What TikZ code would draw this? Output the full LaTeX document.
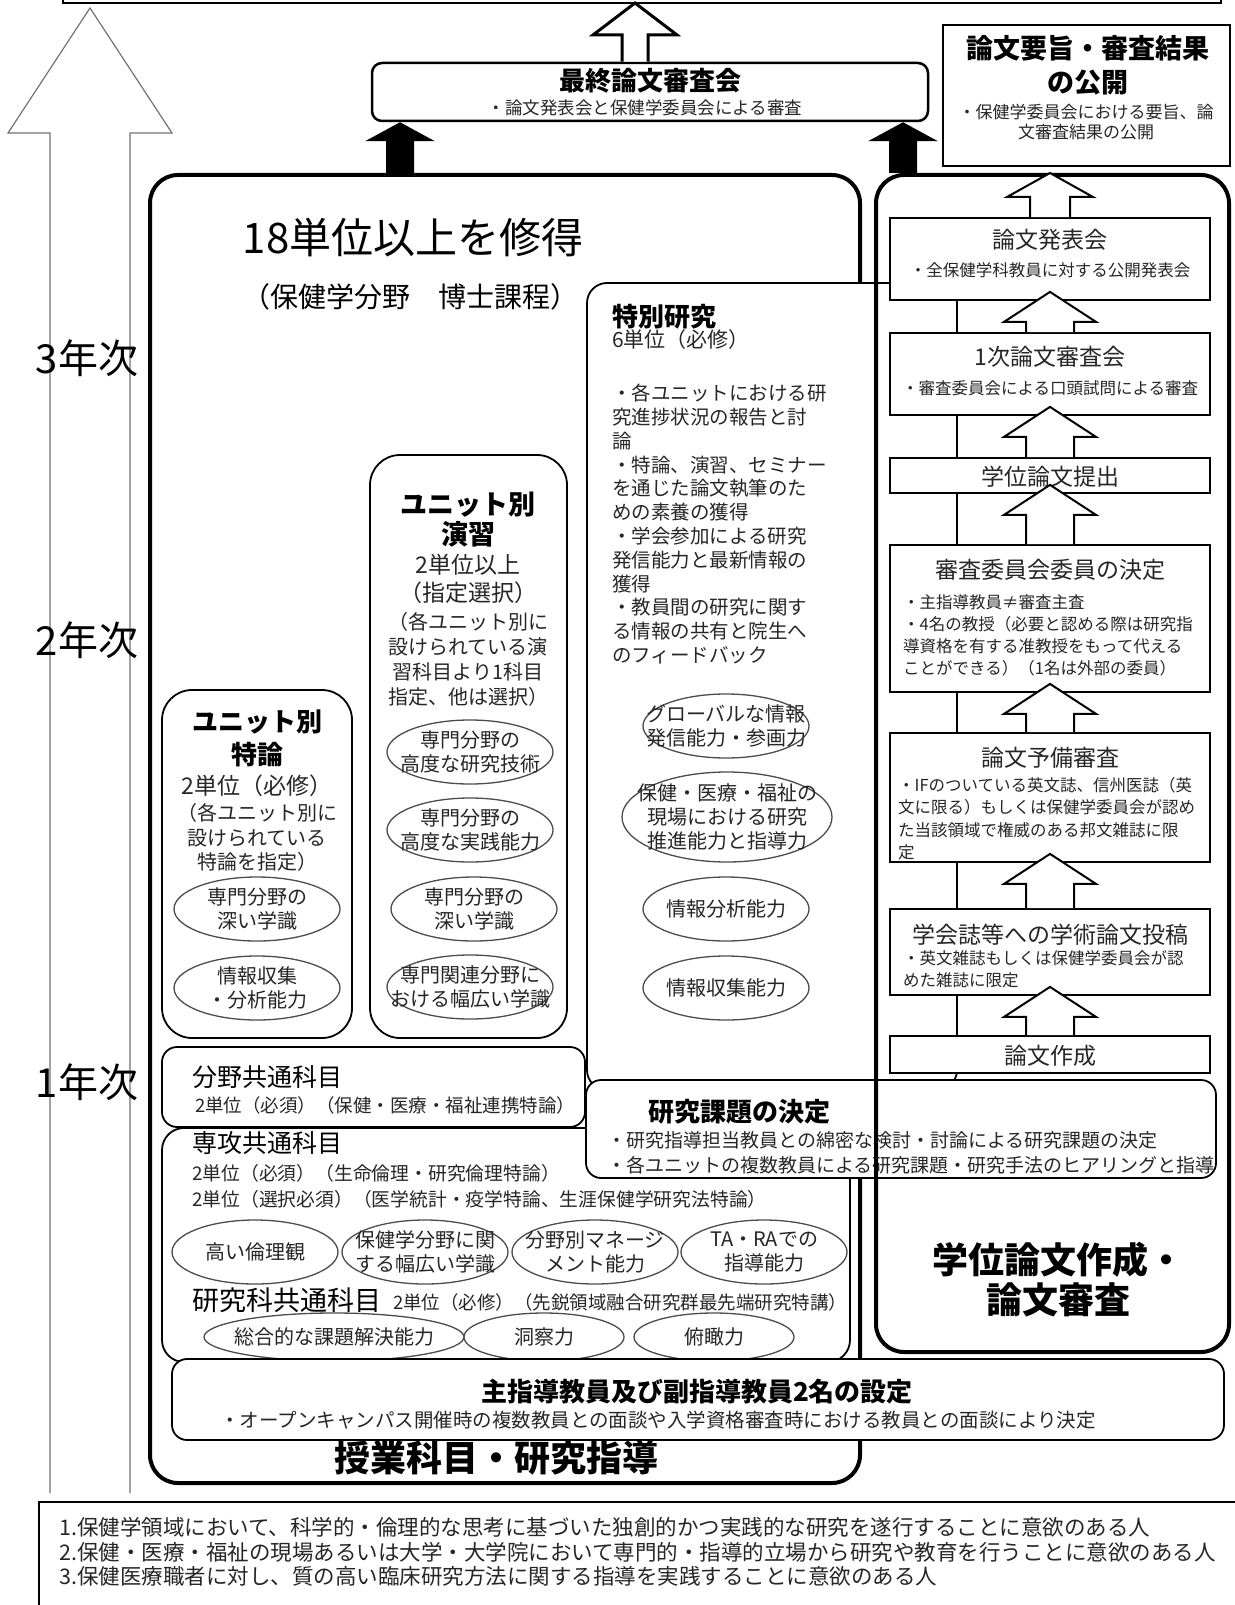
\documentclass[tikz,border=0pt]{standalone}
\usepackage{fontspec}
\setmainfont{Noto Sans CJK JP}
\usetikzlibrary{shapes.geometric,calc}
\newcommand\F[2]{\fontsize{#1}{#2}\selectfont}
\newcommand\hollowup[6][]{%
  \draw[#1] let \p1=(#2), \p2=(#3) in
    (\x1-#5,\y1) -- (\x1-#5,\y2-#6) -- (\x1-#4,\y2-#6) -- (\x1,\y2)
    -- (\x1+#4,\y2-#6) -- (\x1+#5,\y2-#6) -- (\x1+#5,\y1);}
\newcommand\ovalnode[5]{%
  \node[oval, minimum width=#3, minimum height=#4] (#1) at (#2) {};
  \node[ovtxt] (#1t) at (#1) {#5};}
\tikzset{
  sqbox/.style={draw, line width=1.8pt, fill=white, inner sep=0pt},
  rbox/.style={sqbox, rounded corners=15pt},
  bigbox/.style={draw, line width=4pt, rounded corners=28pt, inner sep=0pt},
  oval/.style={ellipse, draw=black!70, line width=1.3pt, inner sep=0pt},
  ovtxt/.style={inner sep=0pt, align=center, text=black!85, font=\F{20}{24}},
  body/.style={inner sep=0pt, align=left, anchor=west, text=black!85, font=\F{19}{23}},
  mid/.style={inner sep=0pt, align=center, text=black!85},
  ttl/.style={inner sep=0pt, align=center, font=\bfseries\F{26}{30}},
  hol/.style={draw, line width=2pt, fill=white, line join=miter},
  blk/.style={fill=black, draw=none},
  year/.style={inner sep=0pt, font=\F{40}{42}},
}
\begin{document}
\begin{tikzpicture}[x=1pt,y=-1pt]
\useasboundingbox (0,0) rectangle (1234,1605);
% top box (cut off)
\draw[line width=2.5pt] (63,-10) -- (63,3) -- (1221,3) -- (1221,-10);
\coordinate (topline) at (0,3);
% big year arrow
\coordinate (yb) at (90,1493);
\coordinate (yt) at (90,8);
\hollowup[draw=black!55, line width=1.2pt, fill=white]{yb}{yt}{82pt}{40pt}{125pt}
\node[year] (y3) at (87,358) {3年次};
\node[year] (y2) at (87,640) {2年次};
\node[year] (y1) at (87,1082) {1年次};

% big left box
\node[bigbox, minimum width=710, minimum height=1308] (bigL) at (505,829) {};
\node[inner sep=0pt, font=\F{42}{46}] (t18) at (413,238) {18単位以上を修得};
\node[inner sep=0pt, font=\F{28}{30}] (t18b) at (410,297) {（保健学分野　博士課程）};

% unit tokuron
\node[rbox, rounded corners=30pt, minimum width=190, minimum height=348] (tok) at (257,864) {};
\node[ttl, font=\bfseries\F{26}{33}] (tokT) at (257,738.5) {ユニット別\\特論};
\node[mid, font=\F{23}{27}] (tokU) at (257,786) {2単位（必修）};
\node[mid, font=\F{20}{24.5}] (tokN) at (257,837.5) {（各ユニット別に\\設けられている\\特論を指定）};
\ovalnode{e11}{257,909}{166}{64}{専門分野の\\深い学識}
\ovalnode{e12}{257,988}{166}{64}{情報収集\\・分析能力}

% unit ensyu
\node[rbox, rounded corners=30pt, minimum width=197, minimum height=583] (ens) at (468.5,746.5) {};
\node[ttl, font=\bfseries\F{27}{30}] (ensT) at (468,520) {ユニット別\\演習};
\node[mid, font=\F{23}{28}] (ensU) at (468,579) {2単位以上\\（指定選択）};
\node[mid, font=\F{20}{25}] (ensN) at (468,659.5) {（各ユニット別に\\設けられている演\\習科目より1科目\\指定、他は選択）};
\ovalnode{e21}{470,752}{166}{64}{専門分野の\\高度な研究技術}
\ovalnode{e22}{470,830}{166}{64}{専門分野の\\高度な実践能力}
\ovalnode{e23}{474,909}{166}{64}{専門分野の\\深い学識}
\ovalnode{e24}{470,987}{166}{64}{専門関連分野に\\おける幅広い学識}

% special research
\node[rbox, rounded corners=20pt, minimum width=370, minimum height=807] (spr) at (772,686.5) {};
\node[ttl, anchor=west] (sprT) at (612,317) {特別研究};
\node[body, font=\F{21}{24}] (sprU) at (612,340) {6単位（必修）};
\node[body, font=\F{19.5}{23.8}] (sprN) at (612,524) {・各ユニットにおける研\\究進捗状況の報告と討\\論\\・特論、演習、セミナー\\を通じた論文執筆のた\\めの素養の獲得\\・学会参加による研究\\発信能力と最新情報の\\獲得\\・教員間の研究に関す\\る情報の共有と院生へ\\のフィードバック};
\ovalnode{e31}{726,726}{166}{64}{グローバルな情報\\発信能力・参画力}
\ovalnode{e32}{727,817}{210}{90}{保健・医療・福祉の\\現場における研究\\推進能力と指導力}
\ovalnode{e33}{726,909}{166}{64}{情報分析能力}
\ovalnode{e34}{726,988}{166}{64}{情報収集能力}

% common subjects
\node[rbox, minimum width=423, minimum height=80] (bun) at (373.5,1087) {};
\node[body, text=black, font=\F{25}{28}] (bunT) at (192,1077) {分野共通科目};
\node[body, font=\F{18.5}{22}] (bunU) at (195,1105) {2単位（必須）（保健・医療・福祉連携特論）};
\node[rbox, rounded corners=22pt, minimum width=688, minimum height=234] (sen) at (506,1245) {};
\node[body, text=black, font=\F{25}{28}] (senT) at (192,1143) {専攻共通科目};
\node[body, font=\F{18.8}{26}] (senU) at (192,1186) {2単位（必須）（生命倫理・研究倫理特論）\\2単位（選択必須）（医学統計・疫学特論、生涯保健学研究法特論）};
\ovalnode{e41}{255,1252}{166}{64}{高い倫理観}
\ovalnode{e42}{425,1252}{166}{64}{保健学分野に関\\する幅広い学識}
\ovalnode{e43}{595,1252}{166}{64}{分野別マネージ\\メント能力}
\ovalnode{e44}{764,1252}{166}{64}{TA・RAでの\\指導能力}
\node[body, text=black, font=\F{27}{30}] (kenT) at (192,1300) {研究科共通科目};
\node[body, font=\F{18.5}{22}] (kenU) at (393,1302) {2単位（必修）（先鋭領域融合研究群最先端研究特講）};
\ovalnode{e51}{334,1337}{260}{48}{総合的な課題解決能力}
\ovalnode{e52}{544,1337}{160}{48}{洞察力}
\ovalnode{e53}{714,1337}{160}{48}{俯瞰力}

% research topic
\node[rbox, minimum width=630, minimum height=98] (kad) at (901,1129) {};
\node[ttl, anchor=west] (kadT) at (648,1112) {研究課題の決定};
\node[body, font=\F{19}{25}] (kadN) at (607,1152.5) {・研究指導担当教員との綿密な検討・討論による研究課題の決定\\・各ユニットの複数教員による研究課題・研究手法のヒアリングと指導};

% right big box
\node[bigbox, minimum width=353, minimum height=1177] (rb) at (1052.5,763.5) {};
\node[ttl, font=\bfseries\F{36}{40}] (rbT) at (1058,1280) {学位論文作成・\\論文審査};

% right column boxes
\node[sqbox, minimum width=320, minimum height=82] (hap) at (1050,259) {};
\node[mid, font=\F{23}{26}] at (1050,240) {論文発表会};
\node[mid, font=\F{16.5}{20}] at (1050,270) {・全保健学科教員に対する公開発表会};
\node[sqbox, minimum width=320, minimum height=82] (ji1) at (1050,374) {};
\node[mid, font=\F{23}{26}] at (1050,357) {1次論文審査会};
\node[mid, font=\F{16.5}{20}] at (1050,388) {・審査委員会による口頭試問による審査};
\node[sqbox, minimum width=320, minimum height=35] (tei) at (1050,475.5) {};
\node[mid, font=\F{23}{26}] at (1050,477) {学位論文提出};
\node[sqbox, minimum width=320, minimum height=147] (iin) at (1050,618.5) {};
\node[mid, font=\F{23}{26}] at (1050,570) {審査委員会委員の決定};
\node[body, font=\F{16.5}{22}] at (903,635) {・主指導教員≠審査主査\\・4名の教授（必要と認める際は研究指\\導資格を有する准教授をもって代える\\ことができる）（1名は外部の委員）};
\node[sqbox, minimum width=320, minimum height=129] (yob) at (1050,797.5) {};
\node[mid, font=\F{23}{26}] at (1050,758) {論文予備審査};
\node[body, font=\F{16.5}{22.3}] at (898,818.5) {・IFのついている英文誌、信州医誌（英\\文に限る）もしくは保健学委員会が認め\\た当該領域で権威のある邦文雑誌に限\\定};
\node[sqbox, minimum width=320, minimum height=86] (gak) at (1050,952) {};
\node[mid, font=\F{23}{26}] at (1050,935) {学会誌等への学術論文投稿};
\node[body, font=\F{16.5}{22}] at (903,969) {・英文雑誌もしくは保健学委員会が認\\めた雑誌に限定};
\node[sqbox, minimum width=320, minimum height=37] (sak) at (1050,1054.5) {};
\node[mid, font=\F{23}{26}] at (1050,1056) {論文作成};

\hollowup[hol]{hap.north}{rb.north}{43pt}{20pt}{24pt}
\hollowup[hol]{ji1.north}{$(hap.south)+(0,-9)$}{46pt}{24pt}{30pt}
\hollowup[hol]{tei.north}{$(ji1.south)+(0,-9)$}{46pt}{24pt}{30pt}
\hollowup[hol]{iin.north}{$(tei.south)+(0,-9)$}{46pt}{24pt}{30pt}
\hollowup[hol]{yob.north}{$(iin.south)+(0,-9)$}{46pt}{24pt}{30pt}
\hollowup[hol]{gak.north}{$(yob.south)+(0,-9)$}{46pt}{24pt}{30pt}
\hollowup[hol]{sak.north}{$(gak.south)+(0,-9)$}{46pt}{24pt}{30pt}

% main supervisor
\node[rbox, minimum width=1052, minimum height=81] (shu) at (698,1399.5) {};
\node[ttl] (shuT) at (697,1392) {主指導教員及び副指導教員2名の設定};
\node[body, font=\F{19.5}{22}] (shuN) at (220,1420) {・オープンキャンパス開催時の複数教員との面談や入学資格審査時における教員との面談により決定};
\node[ttl, font=\bfseries\F{36}{40}] (jug) at (496,1458) {授業科目・研究指導};

% footer
\draw[line width=2pt] (39,1620) -- (39,1502) -- (1250,1502);
\node[body, font=\F{21.5}{24.5}] (foot) at (59,1552) {1.保健学領域において、科学的・倫理的な思考に基づいた独創的かつ実践的な研究を遂行することに意欲のある人\\2.保健・医療・福祉の現場あるいは大学・大学院において専門的・指導的立場から研究や教育を行うことに意欲のある人\\3.保健医療職者に対し、質の高い臨床研究方法に関する指導を実践することに意欲のある人};

% final review
\node[rbox, rounded corners=10pt, line width=2.5pt, minimum width=556, minimum height=58] (final) at (650,92) {};
\node[ttl, font=\bfseries\F{26}{28}] (finalT) at (650,81) {最終論文審査会};
\node[mid, font=\F{17.5}{19}] (finalN) at (645,108) {・論文発表会と保健学委員会による審査};
\node[sqbox, minimum width=287, minimum height=141] (pub) at (1086.5,95.5) {};
\node[ttl, font=\bfseries\F{27}{34}] (pubT) at (1088,65) {論文要旨・審査結果\\の公開};
\node[mid, font=\F{17}{20}] (pubN) at (1086,122) {・保健学委員会における要旨、論\\文審査結果の公開};

\coordinate (kx0) at (635,0);
\coordinate (kx1) at (400,0);
\coordinate (kx2) at (903,0);
\hollowup[hol, line width=3pt]{final.north -| kx0}{topline -| kx0}{42pt}{13pt}{32pt}
\hollowup[blk]{bigL.north -| kx1}{final.south -| kx1}{35pt}{14pt}{19pt}
\hollowup[blk]{rb.north -| kx2}{final.south -| kx2}{35pt}{14pt}{19pt}
\end{tikzpicture}
\end{document}
